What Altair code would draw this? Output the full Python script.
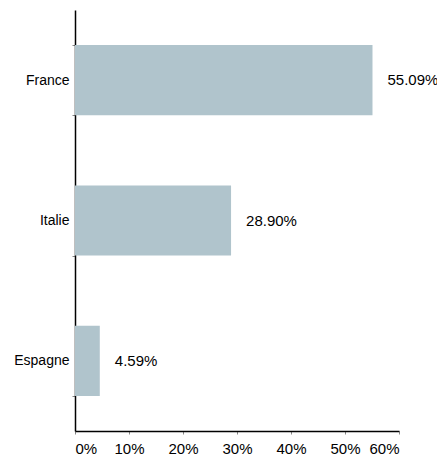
import altair as alt
import pandas as pd

countries = ["France", "Italie", "Espagne"]
shares = [55.09, 28.90, 4.59]
labels = ["55.09%", "28.90%", "4.59%"]
x_ticks = [0, 10, 20, 30, 40, 50, 60]

df = pd.DataFrame({"pays": countries, "part": shares, "label": labels})

FONT = "Liberation Sans"

y_enc = alt.Y(
    "pays:N",
    sort=countries,
    title=None,
    scale=alt.Scale(paddingInner=0.5, paddingOuter=0.25),
    axis=alt.Axis(
        tickBand="extent",
        domainColor="black",
        domainWidth=1.5,
        tickColor="#888888",
        tickSize=3,
        labelPadding=3,
        labelFont=FONT,
        labelFontSize=14,
        labelColor="black",
        grid=False,
    ),
)

x_enc = alt.X(
    "part:Q",
    title=None,
    scale=alt.Scale(domain=[0, 60], nice=False),
    axis=alt.Axis(
        values=x_ticks,
        labelExpr="datum.value + '%'",
        domainColor="black",
        domainWidth=1.5,
        tickColor="#888888",
        tickSize=3,
        labelPadding=7,
        labelFont=FONT,
        labelFontSize=15,
        labelColor="black",
        grid=False,
    ),
)

bars = alt.Chart(df).mark_bar(color="#b0c4cc").encode(x=x_enc, y=y_enc)

text = alt.Chart(df).mark_text(
    align="left", baseline="middle", dx=15, font=FONT, fontSize=15, color="black"
).encode(x="part:Q", y=alt.Y("pays:N", sort=countries), text="label:N")

chart = (
    alt.layer(bars, text)
    .properties(
        width=324,
        height=421,
        autosize=alt.AutoSizeParams(type="none"),
        padding={"left": 67, "top": 2, "right": 38, "bottom": 25},
    )
    .configure_view(stroke=None)
)

chart.save("out.html", embed_options={"renderer": "svg", "actions": False})
